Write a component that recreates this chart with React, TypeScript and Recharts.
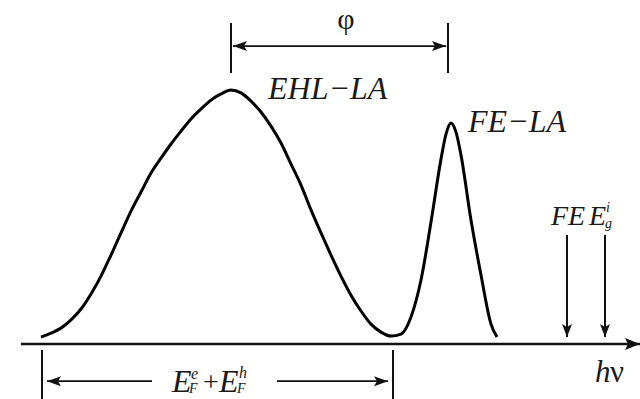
import React from 'react';
import { ComposedChart, Line, XAxis, YAxis, ReferenceLine, ReferenceDot } from 'recharts';

// photon energy hν (arbitrary units) and normalised PL intensity
const energy = [
  2.05, 2.55, 3.05, 3.55, 4.05, 4.55, 5.05, 5.55, 6.05, 6.55, 7.05, 7.55, 8.05, 8.55, 9.05, 9.55,
  10.05, 10.55, 11.05, 11.55, 12.05, 12.55, 13.05, 13.55, 14.05, 14.55, 15.05, 15.55, 16.05, 16.55,
  17.05, 17.55, 18.05, 18.55, 19.05, 19.55, 20.05, 20.55, 21.05, 21.55, 22.05, 22.3, 22.55, 22.8,
  23.05, 23.55, 24.05, 24.55, 24.85,
];
const intensity = [
  0, 0.016, 0.036, 0.069, 0.113, 0.174, 0.246, 0.331, 0.42, 0.508, 0.585, 0.662, 0.722, 0.779, 0.831, 0.88,
  0.92, 0.956, 0.981, 0.997, 0.985, 0.952, 0.908, 0.851, 0.783, 0.698, 0.613, 0.513, 0.42, 0.331,
  0.246, 0.169, 0.105, 0.052, 0.02, 0.004, 0.012, 0.081, 0.23, 0.464, 0.718, 0.819, 0.864, 0.827,
  0.734, 0.472, 0.25, 0.052, 0.0,
];

// characteristic energies
const ehlPeak = 11.55;
const fePeak = 22.4;
const feLine = 28.35;
const egLine = 30.25;
const fermiStart = 2.1;
const fermiEnd = 19.65;
const axisStart = 1.05;
const axisEnd = 32;

const data = energy.map((e, i) => ({ e, i: intensity[i] }));

const serif = '"Liberation Serif", "Times New Roman", serif';
const ink = '#111';

// line with filled arrow heads
function arrow(heads: 'end' | 'both', width: number, len = 14, half = 5) {
  return (p: any) => {
    const { x1, y1, x2, y2 } = p;
    const head = (tx: number, ty: number, fx: number, fy: number) => {
      const a = Math.atan2(ty - fy, tx - fx);
      const c = Math.cos(a);
      const s = Math.sin(a);
      const bx = tx - c * len;
      const by = ty - s * len;
      const nx = tx - c * (len - 3);
      const ny = ty - s * (len - 3);
      return `${tx},${ty} ${bx - s * half},${by + c * half} ${nx},${ny} ${bx + s * half},${by - c * half}`;
    };
    return (
      <g>
        <line x1={x1} y1={y1} x2={x2} y2={y2} stroke={ink} strokeWidth={width} />
        <polygon points={head(x2, y2, x1, y1)} fill={ink} />
        {heads === 'both' && <polygon points={head(x1, y1, x2, y2)} fill={ink} />}
      </g>
    );
  };
}

const tick = (p: any) => (
  <line x1={p.x1} y1={p.y1} x2={p.x2} y2={p.y2} stroke={ink} strokeWidth={2} />
);

type Part = { t: string; dx?: number; dy?: number; size?: number; italic?: boolean; anchor?: string };

const label = (parts: Part[]) => (p: any) => (
  <g>
    {parts.map((q, k) => (
      <text
        key={k}
        x={p.cx + (q.dx ?? 0)}
        y={p.cy + (q.dy ?? 0)}
        fontFamily={serif}
        fontSize={q.size ?? 32}
        fontStyle={q.italic === false ? 'normal' : 'italic'}
        textAnchor={q.anchor ?? 'start'}
        fill="#1a1a1a"
      >
        {q.t}
      </text>
    ))}
  </g>
);

export default function App() {
  return (
    <div style={{ position: 'absolute', left: 0, top: 0, background: '#fff' }}>
      <ComposedChart width={640} height={399} data={data} margin={{ top: 0, right: 0, bottom: 0, left: 0 }}>
        <XAxis type="number" dataKey="e" domain={[0, 32]} hide />
        <YAxis type="number" domain={[-0.25, 1.36]} hide />

        {/* hν axis */}
        <ReferenceLine
          segment={[{ x: axisStart, y: -0.028 }, { x: axisEnd, y: -0.028 }]}
          shape={arrow('end', 2.5, 15, 6)}
          ifOverflow="visible"
        />

        <Line
          dataKey="i"
          type="monotone"
          stroke="#000"
          strokeWidth={3}
          dot={false}
          activeDot={false}
          isAnimationActive={false}
        />

        {/* φ separation between EHL-LA and FE-LA */}
        <ReferenceLine segment={[{ x: ehlPeak, y: 1.267 }, { x: ehlPeak, y: 1.065 }]} shape={tick} ifOverflow="visible" />
        <ReferenceLine segment={[{ x: fePeak, y: 1.267 }, { x: fePeak, y: 1.065 }]} shape={tick} ifOverflow="visible" />
        <ReferenceLine
          segment={[{ x: ehlPeak + 0.1, y: 1.174 }, { x: fePeak - 0.1, y: 1.174 }]}
          shape={arrow('both', 1.6)}
          ifOverflow="visible"
        />
        <ReferenceDot x={17.3} y={1.245} r={0} ifOverflow="visible" shape={label([{ t: 'φ', italic: false, anchor: 'middle', size: 30 }])} />

        <ReferenceDot x={13.4} y={0.96} r={0} ifOverflow="visible" shape={label([{ t: 'EHL−LA' }])} />
        <ReferenceDot x={23.4} y={0.827} r={0} ifOverflow="visible" shape={label([{ t: 'FE−LA' }])} />

        {/* FE and indirect gap positions */}
        <ReferenceLine segment={[{ x: feLine, y: 0.412 }, { x: feLine, y: 0.0 }]} shape={arrow('end', 2, 13, 5)} ifOverflow="visible" />
        <ReferenceLine segment={[{ x: egLine, y: 0.412 }, { x: egLine, y: 0.0 }]} shape={arrow('end', 2, 13, 5)} ifOverflow="visible" />
        <ReferenceDot x={27.55} y={0.452} r={0} ifOverflow="visible" shape={label([{ t: 'FE', size: 28 }])} />
        <ReferenceDot
          x={29.45}
          y={0.452}
          r={0}
          ifOverflow="visible"
          shape={label([
            { t: 'E', size: 28 },
            { t: 'i', dx: 17, dy: -13, size: 14 },
            { t: 'g', dx: 16, dy: 3, size: 14 },
          ])}
        />
        <ReferenceDot
          x={29.75}
          y={-0.182}
          r={0}
          ifOverflow="visible"
          shape={label([{ t: 'h', size: 31 }, { t: 'ν', dx: 15, size: 31, italic: false }])}
        />

        {/* E_F^e + E_F^h span */}
        <ReferenceLine segment={[{ x: fermiStart, y: -0.052 }, { x: fermiStart, y: -0.25 }]} shape={tick} ifOverflow="visible" />
        <ReferenceLine segment={[{ x: fermiEnd, y: -0.052 }, { x: fermiEnd, y: -0.25 }]} shape={tick} ifOverflow="visible" />
        <ReferenceLine segment={[{ x: 7.6, y: -0.178 }, { x: fermiStart + 0.25, y: -0.178 }]} shape={arrow('end', 1.6)} ifOverflow="visible" />
        <ReferenceLine segment={[{ x: 13.85, y: -0.178 }, { x: fermiEnd - 0.25, y: -0.178 }]} shape={arrow('end', 1.6)} ifOverflow="visible" />
        <ReferenceDot
          x={8.6}
          y={-0.222}
          r={0}
          ifOverflow="visible"
          shape={label([
            { t: 'E', size: 32 },
            { t: 'e', dx: 19, dy: -13, size: 16 },
            { t: 'F', dx: 17, dy: 1, size: 14 },
            { t: '+', dx: 31, dy: -1, size: 28, italic: false },
            { t: 'E', dx: 47, size: 32 },
            { t: 'h', dx: 67, dy: -14, size: 16 },
            { t: 'F', dx: 65, dy: 1, size: 14 },
          ])}
        />
      </ComposedChart>
    </div>
  );
}
